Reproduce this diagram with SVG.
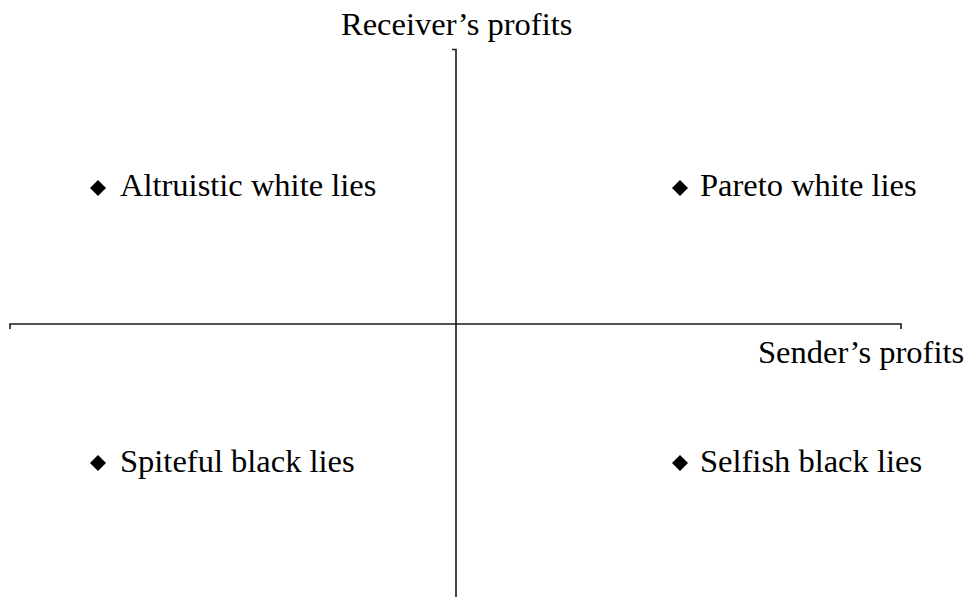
<svg xmlns="http://www.w3.org/2000/svg" width="969" height="597" viewBox="0 0 969 597">
  <style>
    .label { font-family: "Liberation Serif", "Times New Roman", serif; font-size: 32.5px; fill: #000; }
    .axis { stroke: #1a1a1a; stroke-width: 1.6; fill: none; }
  </style>
  <defs>
    <path id="bullet" d="M0,-8 L8,0 L0,8 L-8,0 Z" fill="#000"/>
  </defs>
  <rect width="969" height="597" fill="#fff"/>

  <!-- axes -->
  <g id="axes">
    <path class="axis" d="M452,49.5 H456 V597"/>
    <path class="axis" d="M10,329 V324 H901 V329"/>
  </g>

  <g id="axis-labels">
    <text class="label" x="341" y="35">Receiver’s profits</text>
    <text class="label" x="758" y="363">Sender’s profits</text>
  </g>

  <!-- quadrant entries -->
  <g id="altruistic">
    <use href="#bullet" x="98" y="188"/>
    <text class="label" x="120" y="196">Altruistic white lies</text>
  </g>
  <g id="pareto">
    <use href="#bullet" x="680" y="188"/>
    <text class="label" x="700" y="196">Pareto white lies</text>
  </g>
  <g id="spiteful">
    <use href="#bullet" x="98" y="463"/>
    <text class="label" x="120" y="472">Spiteful black lies</text>
  </g>
  <g id="selfish">
    <use href="#bullet" x="680" y="463"/>
    <text class="label" x="700" y="472">Selfish black lies</text>
  </g>
</svg>
